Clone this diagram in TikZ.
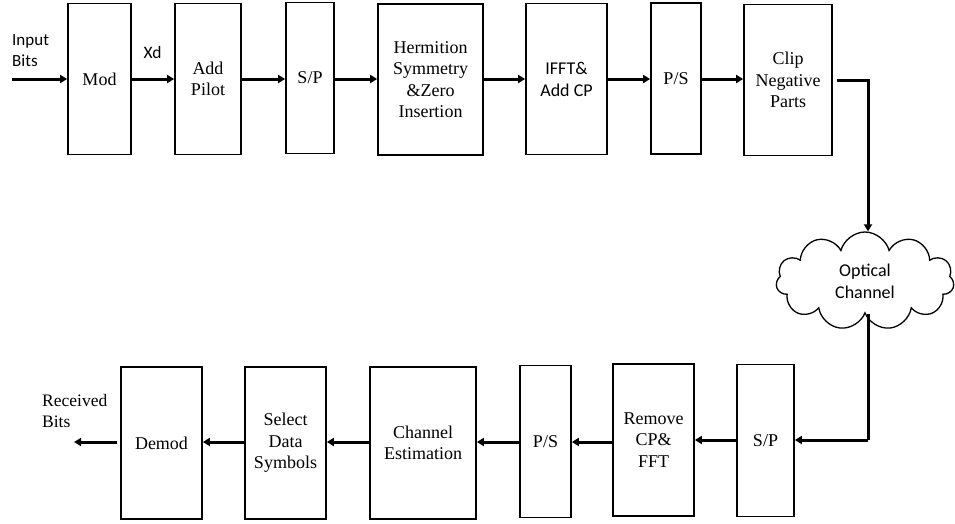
\documentclass[tikz,border=0pt]{standalone}
\usepackage{fontspec}
\setmainfont{Liberation Serif}
\newfontfamily\carl{Carlito}
\usetikzlibrary{arrows.meta,shapes.symbols}
\begin{document}
\begin{tikzpicture}[x=1pt,y=-1pt,
  blk/.style={draw, line width=1.7pt, align=center, inner sep=1pt,
    font=\fontsize{18}{21.5}\selectfont},
  sblk/.style={blk, font=\carl\fontsize{18}{22}\selectfont},
  conn/.style={line width=3pt, -{Triangle[length=7pt,width=8pt]}},
  wire/.style={line width=3pt},
  lbl/.style={align=left, inner sep=0pt}]
\useasboundingbox (0,0) rectangle (955,523);
% top row
\node[blk, minimum width=63, minimum height=151] (mod) at (99.5,79) {Mod};
\node[blk, minimum width=66, minimum height=151] (pilot) at (208,79) {Add\\Pilot};
\node[blk, minimum width=48, minimum height=151] (sp1) at (310,78) {S/P};
\node[blk, minimum width=105, minimum height=151] (herm) at (430.5,79.5) {Hermition\\Symmetry\\\&Zero\\Insertion};
\node[sblk, minimum width=81, minimum height=151] (ifft) at (566.5,79) {IFFT\&\\Add CP};
\node[blk, minimum width=50, minimum height=151] (ps1) at (676,78.5) {P/S};
\node[blk, minimum width=88, minimum height=151] (clip) at (788,80) {Clip\\Negative\\Parts};
% cloud
\node[cloud, draw, line width=1.3pt, cloud puffs=11, aspect=1.9, minimum width=178, minimum height=98,
  inner sep=0pt, align=center, font=\carl\fontsize{18}{22}\selectfont] (chan) at (865,281) {Optical\\Channel};
% bottom row
\node[blk, minimum width=81, minimum height=152] (demod) at (161.5,443) {Demod};
\node[blk, minimum width=81, minimum height=152] (sel) at (285.5,443) {Select\\Data\\Symbols};
\node[blk, minimum width=106, minimum height=152] (chest) at (423,443) {Channel\\Estimation};
\node[blk, minimum width=51, minimum height=152] (ps2) at (545.5,441.5) {P/S};
\node[blk, minimum width=81, minimum height=152] (rem) at (653.5,440) {Remove\\CP\&\\FFT};
\node[blk, minimum width=57, minimum height=152] (sp2) at (765.5,440.5) {S/P};
% labels
\node[lbl, anchor=west, font=\carl\fontsize{17}{21}\selectfont] (inlbl) at (12,51) {Input\\Bits};
\node[inner sep=0pt, font=\carl\fontsize{17.5}{20}\selectfont] (xd) at (152.5,52) {Xd};
\node[lbl, anchor=west, font=\fontsize{17.5}{21}\selectfont] (outlbl) at (42,411) {Received\\Bits};
% coordinates
\coordinate (in) at (12,79);
\coordinate (out) at (74,442);
\coordinate (c1) at (868,80);
\coordinate (c2) at (868,440);
% connectors
\draw[conn] (in) -- (mod.west);
\draw[conn] (mod.east) -- (mod.east -| pilot.west);
\draw[conn] (pilot.east) -- (pilot.east -| sp1.west);
\draw[conn] (sp1.east |- 0,79) -- (herm.west |- 0,79);
\draw[conn] (herm.east |- 0,79) -- (ifft.west |- 0,79);
\draw[conn] (ifft.east |- 0,79) -- (ps1.west |- 0,79);
\draw[conn] (ps1.east |- 0,79) -- (clip.west |- 0,79);
\draw[conn] ([xshift=4pt]clip.east) -- (c1) -- (chan.north -| c1);
\draw[wire] (chan.south -| c2) -- (c2);
\draw[conn] (c2) -- (c2 -| sp2.east);
\draw[conn] (sp2.west |- 0,440) -- (rem.east |- 0,440);
\draw[conn] (rem.west |- 0,442) -- (ps2.east |- 0,442);
\draw[conn] (ps2.west |- 0,442) -- (chest.east |- 0,442);
\draw[conn] (chest.west |- 0,442) -- (sel.east |- 0,442);
\draw[conn] (sel.west |- 0,442) -- (demod.east |- 0,442);
\draw[conn] ([xshift=-3pt]demod.west |- 0,442) -- (out);
\end{tikzpicture}
\end{document}
